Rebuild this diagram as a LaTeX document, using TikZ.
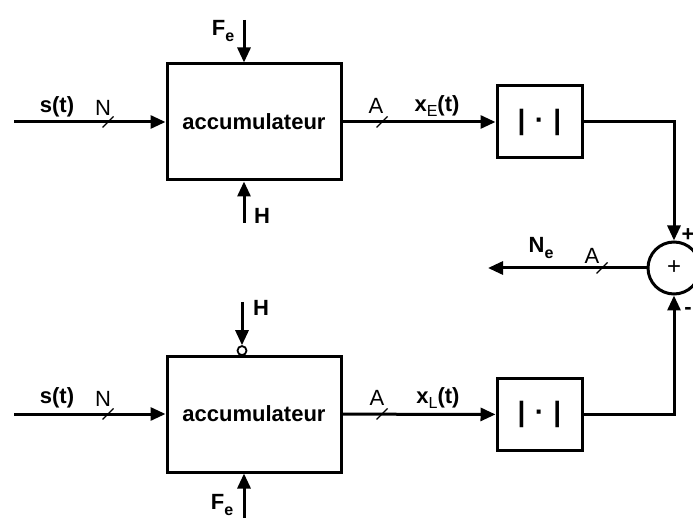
\documentclass[tikz,border=0pt]{standalone}
\usepackage{fontspec}
\setmainfont{Liberation Sans}
\usetikzlibrary{arrows.meta,positioning}
\newcommand{\lowsub}[1]{\raisebox{-0.5ex}{\fontsize{16}{16}\selectfont #1}}
\tikzset{
  blk/.style    = {draw, line width=3pt, minimum width=174pt, minimum height=116pt,
                   font=\fontsize{22}{24}\selectfont\bfseries},
  absbox/.style = {draw, line width=3pt, minimum width=85pt, minimum height=72pt,
                   font=\fontsize{28}{28}\selectfont\bfseries},
  sumnode/.style = {draw, circle, line width=3pt, minimum size=52pt, inner sep=0pt,
                   font=\fontsize{24}{24}\selectfont},
  sig/.style    = {line width=3pt, -{Triangle[length=15pt,width=13pt]}},
  lbl/.style    = {font=\fontsize{22}{24}\selectfont\bfseries, inner sep=0pt},
  buslbl/.style = {font=\fontsize{22}{24}\selectfont, inner sep=0pt},
  negdot/.style = {draw, circle, line width=1.8pt, minimum size=9pt, inner sep=0pt, fill=white},
  bus/.pic      = {\draw[line width=1.4pt] (-5.5,5.5) -- (5.5,-5.5);},
}
\begin{document}
\begin{tikzpicture}[x=1pt,y=-1pt]
  \useasboundingbox (0,0) rectangle (693,518);
  \clip (0,0) rectangle (693,518);
  % ---- upper branch ----
  \node[blk] (accE) at (254,122) {accumulateur};
  \node[absbox] (absE) at (539.5,122) {|\,\,·\,\,|};
  \coordinate (inE) at (14,122);
  \coordinate (feE) at (244,20);
  \coordinate (hE) at (244,223);
  \draw[sig] (inE) -- (accE);
  \draw[sig] (feE) -- (feE |- accE.north);
  \draw[sig] (hE) -- (hE |- accE.south);
  \draw[sig] (accE) -- (absE);
  \pic at (108,122) {bus};
  \pic at (382,122) {bus};
  \node[lbl] (sE) at (57,107) {s(t)};
  \node[buslbl] (nE) at (103,108) {N};
  \node[lbl] (feEl) at (223,31) {F\lowsub{e}};
  \node[lbl] (hEl) at (262,216) {H};
  \node[buslbl] (aE) at (376,106) {A};
  \node[lbl] (xE) at (437,106) {x\lowsub{\mdseries E}(t)};
  % ---- summation ----
  \node[sumnode] (sum) at (674,268) {+};
  \coordinate (outN) at (488,268);
  \draw[sig] (absE) -| (sum);
  \draw[sig] (sum) -- (outN);
  \pic at (602,268) {bus};
  \node[lbl] (neL) at (541,248) {N\lowsub{e}};
  \node[buslbl] (aN) at (592,256) {A};
  \node[lbl] (plus) at (688,235) {+};
  \node[lbl] (minus) at (688,311) {-};
  % ---- lower branch ----
  \node[blk] (accL) at (254,414) {accumulateur};
  \node[absbox] (absL) at (539.5,414.5) {|\,\,·\,\,|};
  \coordinate (inL) at (14,414);
  \coordinate (feL) at (244,518);
  \coordinate (hL) at (242,302);
  \node[negdot, anchor=south] (inv) at (242,356) {};
  \draw[sig] (inL) -- (accL);
  \draw[sig] (hL) -- (inv);
  \draw[sig] (feL) -- (feL |- accL.south);
  \draw[sig] (accL) -- (absL);
  \draw[sig] (absL) -| (sum);
  \pic at (108,414) {bus};
  \pic at (382,414) {bus};
  \node[lbl] (sL) at (57,398) {s(t)};
  \node[buslbl] (nL) at (103,399) {N};
  \node[lbl] (hLl) at (261,308) {H};
  \node[lbl] (feLl) at (222,505) {F\lowsub{e}};
  \node[buslbl] (aL) at (377,398) {A};
  \node[lbl] (xL) at (438,398) {x\lowsub{\mdseries L}(t)};
\end{tikzpicture}
\end{document}
